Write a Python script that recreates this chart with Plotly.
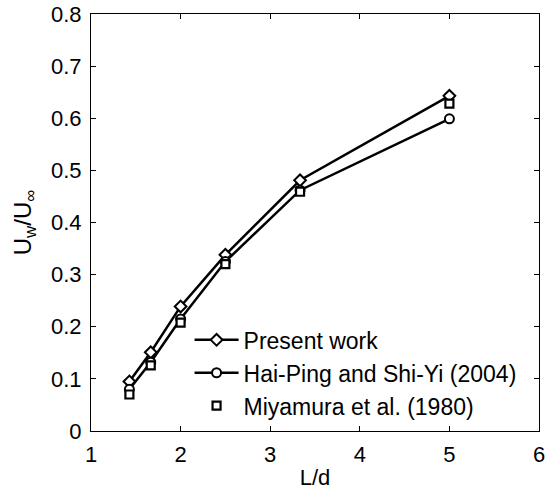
import plotly.graph_objects as go

# L/d values (d/L = 0.7, 0.6, 0.5, 0.4, 0.3, 0.2)
l_over_d = [1.4286, 1.6667, 2.0, 2.5, 3.3333, 5.0]

# Wake velocity ratio U_w / U_inf for each data source
present_work = [0.095, 0.151, 0.239, 0.338, 0.481, 0.643]
hai_ping_shi_yi = [0.080, 0.132, 0.215, 0.325, 0.462, 0.599]
miyamura = [0.070, 0.126, 0.208, 0.320, 0.459, 0.628]

series_names = [
    "Present work",
    "Hai-Ping and Shi-Yi (2004)",
    "Miyamura et al. (1980)",
]

x_ticks = [1, 2, 3, 4, 5, 6]
y_ticks = [0, 0.1, 0.2, 0.3, 0.4, 0.5, 0.6, 0.7, 0.8]

FONT = "Liberation Sans, Arial, sans-serif"

fig = go.Figure()

fig.add_trace(go.Scatter(
    x=l_over_d, y=present_work, name=series_names[0],
    mode="lines+markers",
    line=dict(color="black", width=2.5),
    marker=dict(symbol="diamond", size=9, color="white",
                line=dict(color="black", width=2)),
))
fig.add_trace(go.Scatter(
    x=l_over_d, y=hai_ping_shi_yi, name=series_names[1],
    mode="lines+markers",
    line=dict(color="black", width=2.5),
    marker=dict(symbol="circle", size=9, color="white",
                line=dict(color="black", width=2)),
))
fig.add_trace(go.Scatter(
    x=l_over_d, y=miyamura, name=series_names[2],
    mode="markers",
    marker=dict(symbol="square", size=8, color="white",
                line=dict(color="black", width=2.2)),
))

axis_common = dict(
    showline=True, linecolor="black", linewidth=1,
    mirror="ticks", ticks="inside", ticklen=5, tickwidth=1,
    tickcolor="black", showgrid=False, zeroline=False,
    automargin=False, ticklabeloverflow="allow",
    tickfont=dict(family=FONT, size=22, color="black"),
)

fig.update_xaxes(
    range=[1, 6], tickvals=x_ticks, ticktext=[str(v) for v in x_ticks],
    title=dict(text="L/d", font=dict(family=FONT, size=22, color="black"),
               standoff=4),
    ticklabelstandoff=4,
    **axis_common,
)
fig.update_yaxes(
    range=[0, 0.8], tickvals=y_ticks,
    ticktext=["0" if v == 0 else f"{v:.1f}" for v in y_ticks],
    title=dict(text="U<sub>w</sub>/U<sub>∞</sub>",
               font=dict(family=FONT, size=24, color="black"),
               standoff=12),
    ticklabelstandoff=4,
    **axis_common,
)

fig.update_layout(
    width=545, height=490,
    margin=dict(l=91, r=6, t=14, b=59),
    paper_bgcolor="white", plot_bgcolor="white",
    font=dict(family=FONT, size=22, color="black"),
    showlegend=True,
    legend=dict(
        x=0.22, y=0.27, xanchor="left", yanchor="top",
        bgcolor="rgba(0,0,0,0)", borderwidth=0,
        font=dict(family=FONT, size=23, color="black"),
        tracegroupgap=0, itemwidth=44,
    ),
)

fig.write_html("out.html")
